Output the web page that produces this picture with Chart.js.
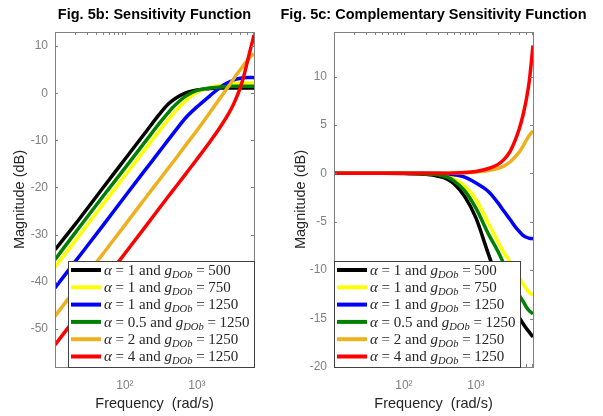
<!DOCTYPE html>
<html><head><meta charset="utf-8">
<script src="https://cdn.jsdelivr.net/npm/chart.js@4/dist/chart.umd.min.js"></script>
<style>
html,body{margin:0;padding:0;background:#fff;width:603px;height:416px;overflow:hidden;}
#c1{position:absolute;left:0;top:0;}
#c2{position:absolute;left:260px;top:0;}
</style></head><body>
<canvas id="c1" width="300" height="416"></canvas>
<canvas id="c2" width="343" height="416"></canvas>
<script>
// ---- data ----
const freqs = [10.7, 20, 50, 100, 200, 300, 400, 500, 700, 1000, 1500, 2000, 2500, 3000, 3500, 4000, 4500, 5000, 5500, 6200];

const alphaVals = ['1', '1', '1', '0.5', '2', '4'];
const gVals = ['500', '750', '1250', '1250', '1250', '1250'];
const seriesColors = ['#000000', '#ffff00', '#0000ff', '#008000', '#edb120', '#ff0000'];

// Fig. 5b sensitivity function |S| (dB)
const S_a1_g500   = [-33.2, -28.0, -20.0, -14.0, -8.0, -4.5, -2.3, -1.1, 0.1, 0.7, 1.0, 1.1, 1.1, 1.1, 1.1, 1.1, 1.1, 1.1, 1.1, 1.1];
const S_a1_g750   = [-36.9, -31.5, -23.5, -17.5, -11.5, -8.0, -5.6, -3.9, -1.6, 0.2, 1.2, 1.6, 1.8, 2.0, 2.1, 2.2, 2.2, 2.2, 2.2, 2.2];
const S_a1_g1250  = [-41.3, -35.9, -28.0, -21.9, -15.9, -12.4, -9.9, -8.0, -5.2, -2.9, -0.6, 1.0, 2.0, 2.6, 3.0, 3.2, 3.3, 3.35, 3.35, 3.3];
const S_a05_g1250 = [-35.3, -29.8, -21.8, -15.9, -9.9, -6.4, -4.1, -2.5, -0.6, 0.6, 1.1, 1.3, 1.4, 1.5, 1.5, 1.5, 1.5, 1.5, 1.5, 1.5];
const S_a2_g1250  = [-47.3, -41.9, -34.0, -28.0, -21.9, -18.4, -15.9, -14.0, -11.0, -7.9, -4.2, -1.5, 0.6, 2.3, 3.8, 5.0, 6.1, 7.0, 7.7, 8.4];
const S_a4_g1250  = [-53.4, -48.0, -40.0, -34.0, -28.0, -24.4, -21.9, -20.0, -17.1, -14.0, -10.4, -7.7, -5.4, -3.3, -1.1, 1.2, 3.8, 6.6, 9.2, 12.3];

// Fig. 5c complementary sensitivity function |T| (dB)
const T_a1_g500   = [0, 0, 0, -0.02, -0.1, -0.3, -0.6, -1.1, -2.4, -4.6, -8.4, -10.9, -12.3, -13.3, -14.2, -14.9, -15.5, -16.0, -16.4, -16.9];
const T_a1_g750   = [0, 0, 0, 0, -0.02, -0.1, -0.3, -0.6, -1.3, -2.7, -5.2, -7.0, -8.3, -9.2, -10.1, -10.8, -11.4, -11.9, -12.3, -12.6];
const T_a1_g1250  = [0, 0, 0, 0, 0, 0, -0.05, -0.15, -0.4, -1.0, -1.9, -3.0, -4.0, -4.8, -5.5, -6.0, -6.4, -6.6, -6.7, -6.75];
const T_a05_g1250 = [0, 0, 0, 0, -0.03, -0.15, -0.4, -0.8, -1.8, -3.6, -6.3, -8.0, -9.5, -10.7, -11.7, -12.6, -13.2, -13.8, -14.2, -14.5];
const T_a2_g1250  = [0, 0, 0, 0, 0, 0.01, 0.02, 0.03, 0.06, 0.15, 0.3, 0.5, 0.8, 1.2, 1.7, 2.2, 2.8, 3.4, 3.9, 4.4];
const T_a4_g1250  = [0, 0, 0, 0, 0, 0.01, 0.02, 0.03, 0.08, 0.2, 0.5, 0.9, 1.5, 2.3, 3.4, 4.6, 6.0, 7.6, 9.5, 13.2];

const xTickValues = [100, 1000];
const xTickLabels = ['10\u00B2', '10\u00B3'];
const yTicksS = [-50, -40, -30, -20, -10, 0, 10];
const yTicksT = [-20, -15, -10, -5, 0, 5, 10];
const xRange = [10.7, 6200];
const yRangeS = [-58.1, 13];
const yRangeT = [-20, 14.6];

// ---- styling ----
const SANS = '"Liberation Sans", Arial, sans-serif';
const SERIF = '"Liberation Serif", "Times New Roman", serif';
const AXIS_COLOR = '#808080';
const TICK_TEXT = '#808080';
const LABEL_TEXT = '#262626';

function makeTitle(text) {
  return {
    id: 'axTitle',
    afterDraw(chart) {
      const {ctx, chartArea: a} = chart;
      ctx.save();
      ctx.font = `bold 14.5px ${SANS}`;
      ctx.fillStyle = '#000';
      ctx.textAlign = 'center';
      ctx.textBaseline = 'middle';
      ctx.fillText(text, (a.left + a.right) / 2, 14.7);
      ctx.restore();
    }
  };
}

function makeBoxTicks(yTicks) {
  return {
    id: 'boxTicks',
    afterDatasetsDraw(chart) {
      const {ctx, chartArea: a, scales: {x, y}} = chart;
      const L = 3;
      ctx.save();
      ctx.strokeStyle = AXIS_COLOR;
      ctx.lineWidth = 1;
      ctx.beginPath();
      yTicks.forEach(v => {
        const p = Math.round(y.getPixelForValue(v)) + 0.5;
        ctx.moveTo(a.left, p); ctx.lineTo(a.left + L, p);
        ctx.moveTo(a.right, p); ctx.lineTo(a.right - L, p);
      });
      for (let k = 1; k <= 3; k++) {
        for (let m = 1; m <= 9; m++) {
          const v = m * Math.pow(10, k);
          if (v < x.min || v > x.max) continue;
          const p = Math.round(x.getPixelForValue(v)) + 0.5;
          ctx.moveTo(p, a.top); ctx.lineTo(p, a.top + L);
          ctx.moveTo(p, a.bottom); ctx.lineTo(p, a.bottom - L);
        }
      }
      ctx.stroke();
      ctx.strokeRect(Math.round(a.left) + 0.5, Math.round(a.top) + 0.5,
                     Math.round(a.right - a.left), Math.round(a.bottom - a.top));
      ctx.restore();
    }
  };
}

function legendSegments(al, g, fs) {
  return [
    {t: '\u03B1', f: `italic ${fs}px ${SERIF}`, dy: 0},
    {t: ' = ' + al + ' and ', f: `${fs}px ${SERIF}`, dy: 0},
    {t: 'g', f: `italic ${fs}px ${SERIF}`, dy: 0},
    {t: 'DOb', f: `italic ${fs * 0.7}px ${SERIF}`, dy: 3},
    {t: ' = ' + g, f: `${fs}px ${SERIF}`, dy: 0}
  ];
}

function makeLegend(side) {
  return {
    id: 'mathLegend',
    afterDraw(chart) {
      const {ctx, chartArea: a} = chart;
      const fs = 15, rowH = 17.3;
      ctx.save();
      const rows = alphaVals.map((al, i) => legendSegments(al, gVals[i], fs));
      const widths = rows.map(r => r.reduce((s, seg) => { ctx.font = seg.f; return s + ctx.measureText(seg.t).width; }, 0));
      const boxW = Math.round(36 + Math.max(...widths) + 4);
      const boxH = 106;
      const bx = side === 'right' ? Math.round(a.right) - boxW : Math.round(a.left);
      const by = Math.round(a.bottom) - boxH;
      ctx.fillStyle = '#ffffff';
      ctx.fillRect(bx, by, boxW, boxH);
      ctx.strokeStyle = '#404040';
      ctx.lineWidth = 1;
      ctx.strokeRect(bx + 0.5, by + 0.5, boxW, boxH);
      rows.forEach((r, i) => {
        const cy = by + 9 + i * rowH;
        ctx.strokeStyle = seriesColors[i];
        ctx.lineWidth = 4;
        ctx.beginPath(); ctx.moveTo(bx + 3, cy); ctx.lineTo(bx + 33, cy); ctx.stroke();
        let tx = bx + 36;
        ctx.fillStyle = LABEL_TEXT;
        ctx.textBaseline = 'alphabetic';
        r.forEach(seg => {
          ctx.font = seg.f;
          ctx.fillText(seg.t, tx, cy + 4.8 + seg.dy);
          tx += ctx.measureText(seg.t).width;
        });
      });
      ctx.restore();
    }
  };
}

function makeChart(canvasId, title, series, yRange, yTicks, geo, legendSide) {
  const datasets = series.map((vals, i) => ({
    data: freqs.map((f, j) => ({x: f, y: vals[j]})),
    borderColor: seriesColors[i],
    backgroundColor: seriesColors[i],
    borderWidth: 3.5,
    pointRadius: 0,
    cubicInterpolationMode: 'monotone',
    fill: false,
    order: series.length - i
  }));
  return new Chart(document.getElementById(canvasId), {
    type: 'line',
    data: {datasets},
    options: {
      responsive: false,
      animation: false,
      events: [],
      layout: {padding: {left: geo.padL, right: geo.padR, top: 32, bottom: 0}},
      plugins: {
        legend: {display: false},
        tooltip: {enabled: false},
        title: {display: false}
      },
      scales: {
        x: {
          type: 'logarithmic', min: xRange[0], max: xRange[1],
          grid: {display: false, drawTicks: false},
          border: {display: false},
          afterBuildTicks: s => { s.ticks = xTickValues.map(v => ({value: v})); },
          afterFit: s => { s.height = 49; },
          ticks: {
            color: TICK_TEXT, font: {family: SANS, size: 12}, padding: 11,
            maxRotation: 0, autoSkip: false,
            callback: v => { const k = xTickValues.indexOf(v); return k >= 0 ? xTickLabels[k] : ''; }
          },
          title: {display: true, text: 'Frequency  (rad/s)', color: LABEL_TEXT,
                  font: {family: SANS, size: 14.5, lineHeight: 1.2}, padding: {top: 0, bottom: 3}}
        },
        y: {
          type: 'linear', min: yRange[0], max: yRange[1],
          grid: {display: false, drawTicks: false},
          border: {display: false},
          afterBuildTicks: s => { s.ticks = yTicks.map(v => ({value: v})); },
          afterFit: s => { s.width = geo.yW; },
          ticks: {color: TICK_TEXT, font: {family: SANS, size: 12}, padding: 7, autoSkip: false},
          title: {display: true, text: 'Magnitude (dB)', color: LABEL_TEXT,
                  font: {family: SANS, size: 14.5, lineHeight: 1.2}, padding: {top: geo.yTitlePad, bottom: 0}}
        }
      }
    },
    plugins: [makeBoxTicks(yTicks), makeLegend(legendSide), makeTitle(title)]
  });
}

makeChart('c1', 'Fig. 5b: Sensitivity Function',
  [S_a1_g500, S_a1_g750, S_a1_g1250, S_a05_g1250, S_a2_g1250, S_a4_g1250],
  yRangeS, yTicksS, {padL: 4, padR: 46, yW: 51, yTitlePad: 6.8}, 'right');

makeChart('c2', 'Fig. 5c: Complementary Sensitivity Function',
  [T_a1_g500, T_a1_g750, T_a1_g1250, T_a05_g1250, T_a2_g1250, T_a4_g1250],
  yRangeT, yTicksT, {padL: 4, padR: 70, yW: 70, yTitlePad: 28.3}, 'left');
</script>
</body></html>
